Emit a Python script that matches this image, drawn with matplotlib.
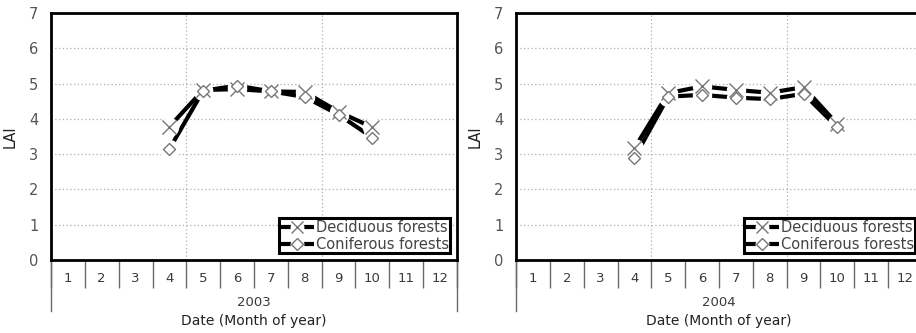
import numpy as np
import matplotlib
matplotlib.use('Agg')
import matplotlib.pyplot as plt
from matplotlib.lines import Line2D

months = [1, 2, 3, 4, 5, 6, 7, 8, 9, 10, 11, 12]
obs_months = [4, 5, 6, 7, 8, 9, 10]

decid_2003 = [3.78, 4.82, 4.84, 4.78, 4.76, 4.2, 3.76]
conif_2003 = [3.15, 4.8, 4.94, 4.78, 4.62, 4.12, 3.47]
decid_2004 = [3.17, 4.73, 4.92, 4.82, 4.74, 4.9, 3.85]
conif_2004 = [2.9, 4.63, 4.68, 4.6, 4.56, 4.71, 3.76]

y_ticks = [0, 1, 2, 3, 4, 5, 6, 7]
v_grid = [4.5, 8.5]

txt = '#3a3a3a'
sep = '#6a6a6a'
plt.rcParams['font.family'] = 'DejaVu Sans'

fig = plt.figure(figsize=(9.16, 3.33), dpi=100)
W, H = 916, 333


def panel(rect_px, year, dec, con):
    x0, x1, y_top, y_bot = rect_px
    ax = fig.add_axes([x0 / W, (H - y_bot) / H, (x1 - x0) / W, (y_bot - y_top) / H])
    ax_h = y_bot - y_top

    ax.set_xlim(0.5, 12.5)
    ax.set_ylim(0, 7)
    ax.set_yticks(y_ticks)
    ax.grid(axis='y', color='#b0b0b0', linestyle=(0, (1, 2)), linewidth=0.9)
    for v in v_grid:
        ax.axvline(v, color='#b0b0b0', linestyle=(0, (1, 2)), linewidth=0.9, zorder=0)

    ax.set_xticks(months)
    ax.set_xticklabels([str(m) for m in months])
    ax.set_xticks(np.arange(0.5, 13, 1), minor=True)
    ax.tick_params(axis='x', which='major', length=0, pad=9, labelsize=9.5, labelcolor=txt)
    ax.tick_params(axis='x', which='minor', length=20, width=1.0, color=sep, direction='out')
    ax.tick_params(axis='y', length=0, pad=9, labelsize=10.5, labelcolor='#555555')
    for s in ax.spines.values():
        s.set_linewidth(2.0)
        s.set_color('black')

    # outer category borders
    tr = ax.get_xaxis_transform()
    for xb in [0.5, 12.5]:
        ax.plot([xb, xb], [0, -51 / ax_h], transform=tr, color=sep, lw=1.0, clip_on=False)

    ax.text(0.5, -(302 - y_bot) / ax_h, str(year), transform=ax.transAxes,
            ha='center', va='center', fontsize=9.5, color=txt)
    ax.text(0.5, -(321 - y_bot) / ax_h, 'Date (Month of year)', transform=ax.transAxes,
            ha='center', va='center', fontsize=10, color='#222222')
    ax.set_ylabel('LAI', fontsize=10.5, color='#222222', labelpad=8)

    handles = []
    labels = []
    for vals, mk, ms, lab in [(dec, 'x', 10, 'Deciduous forests'),
                               (con, 'D', 6.5, 'Coniferous forests')]:
        ax.plot(obs_months, vals, color='black', lw=3.0, zorder=2, solid_capstyle='butt')
        ax.plot(obs_months, vals, linestyle='none', marker='o', markersize=14,
                markerfacecolor='white', markeredgecolor='none', zorder=3)
        ax.plot(obs_months, vals, linestyle='none', marker=mk, markersize=ms,
                markerfacecolor='white', markeredgecolor='#777777',
                markeredgewidth=1.0, zorder=4)
        h_line = Line2D([], [], color='black', lw=3.0, solid_capstyle='butt')
        h_gap = Line2D([], [], linestyle='none', marker='o', markersize=10,
                       markerfacecolor='white', markeredgecolor='none')
        h_mark = Line2D([], [], linestyle='none', marker=mk, markersize=ms * 0.9,
                        markerfacecolor='white', markeredgecolor='#777777', markeredgewidth=1.0)
        handles.append((h_line, h_gap, h_mark))
        labels.append(lab)

    leg = ax.legend(handles, labels, loc='lower right',
                    fancybox=False, framealpha=1, edgecolor='black', fontsize=10.5,
                    handlelength=2.3, handletextpad=0.1, labelspacing=0.1,
                    borderpad=0.12, borderaxespad=0.45, numpoints=1)
    for t in leg.get_texts():
        t.set_color('#444444')
    leg.get_frame().set_linewidth(2.2)
    return ax


panel((51, 457, 13, 260), 2003, decid_2003, conif_2003)
panel((516, 922, 13, 260), 2004, decid_2004, conif_2004)

fig.savefig('out.png', dpi=100)
